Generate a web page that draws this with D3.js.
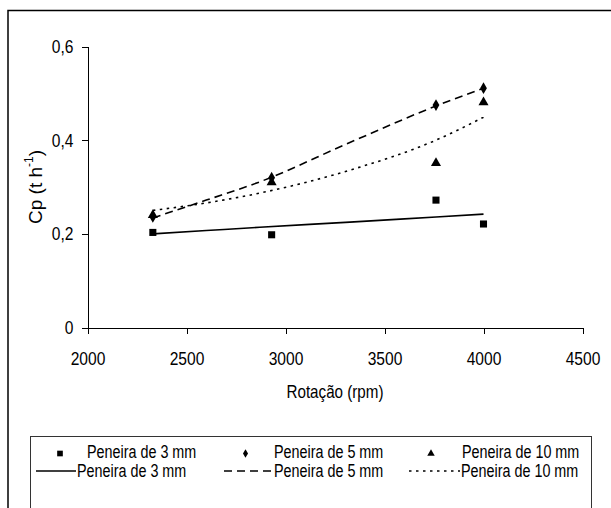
<!DOCTYPE html>
<html lang="pt">
<head>
<meta charset="UTF-8">
<style>
    body { margin: 0; background: #fff; }
    svg text { font-family: "Liberation Sans", Arial, sans-serif; fill: #000; }
    .axis path, .axis line { stroke: #000; stroke-width: 1; shape-rendering: crispEdges; }
    .axis text { font-size: 19px; }
</style>
<script src="https://d3js.org/d3.v7.min.js"></script>
</head>
<body>
<svg id="chart" width="611" height="508"></svg>
<script>
    // measured points
    var rpm = [2330, 2930, 3760, 4000];
    var p3 = [0.203, 0.198, 0.272, 0.221];
    var p5 = [0.236, 0.320, 0.475, 0.511];
    var p10 = [0.240, 0.310, 0.351, 0.481];

    // trend lines
    var trendRpm = [2330, 2600, 2870, 3325, 3760, 4000];
    var trend3 = [0.200, 0.207, 0.214, 0.225, 0.236, 0.242];
    var trend5 = [0.234, 0.272, 0.311, 0.395, 0.473, 0.511];
    var trend10 = [0.250, 0.266, 0.287, 0.336, 0.400, 0.449];

    var xTicks = [2000, 2500, 3000, 3500, 4000, 4500];
    var yTicks = [0, 0.2, 0.4, 0.6];
    var seriesNames = ["Peneira de 3 mm", "Peneira de 5 mm", "Peneira de 10 mm"];

    var NARROW = 0.82;
    // squeeze text horizontally, the original uses a condensed face
    function narrow(sel) {
        sel.each(function() {
            var w = this.getComputedTextLength();
            d3.select(this).attr("textLength", w * NARROW).attr("lengthAdjust", "spacingAndGlyphs");
        });
    }

    var svg = d3.select("#chart");

    // outer frame
    svg.append("rect")
        .attr("x", 8).attr("y", 10.5)
        .attr("width", 700).attr("height", 600)
        .attr("fill", "none").attr("stroke", "#000").attr("stroke-width", 1.5);

    var x = d3.scaleLinear().domain([2000, 4500]).range([87.5, 582.5]);
    var y = d3.scaleLinear().domain([0, 0.6]).range([327.5, 46.5]);
    var fmt = function(d) { return d3.format("")(d).replace(".", ","); };

    svg.append("g")
        .attr("class", "axis")
        .attr("transform", "translate(0," + y(0) + ")")
        .call(d3.axisBottom(x).tickValues(xTicks).tickFormat(d3.format("d")).tickSize(6).tickSizeOuter(0).tickPadding(18.5))
        .selectAll("text").call(narrow);

    svg.append("g")
        .attr("class", "axis")
        .attr("transform", "translate(" + x(2000) + ",0)")
        .call(d3.axisLeft(y).tickValues(yTicks).tickFormat(fmt).tickSize(6).tickSizeOuter(0).tickPadding(8))
        .selectAll("text").call(narrow);

    // axis titles
    svg.append("text")
        .attr("x", (x(2000) + x(4500)) / 2).attr("y", 393)
        .attr("text-anchor", "middle").attr("dominant-baseline", "middle")
        .style("font-size", "18.5px")
        .text("Rotação (rpm)")
        .call(narrow);

    var yl = svg.append("text")
        .attr("transform", "translate(37," + ((y(0) + y(0.6)) / 2) + ") rotate(-90)")
        .attr("text-anchor", "middle").attr("dominant-baseline", "middle")
        .style("font-size", "19px");
    yl.append("tspan").text("Cp (t h");
    yl.append("tspan").attr("dy", -7).style("font-size", "12px").text("-1");
    yl.append("tspan").attr("dy", 7).text(")");

    // trend lines
    var line = d3.line()
        .x(function(d) { return x(d[0]); })
        .y(function(d) { return y(d[1]); })
        .curve(d3.curveMonotoneX);

    var trends = [
        { vals: trend3, dash: null },
        { vals: trend5, dash: "8,5" },
        { vals: trend10, dash: "2.5,4.5" }
    ];

    trends.forEach(function(t) {
        svg.append("path")
            .datum(d3.zip(trendRpm, t.vals))
            .attr("d", line)
            .attr("fill", "none")
            .attr("stroke", "#000")
            .attr("stroke-width", 1.6)
            .attr("stroke-dasharray", t.dash);
    });

    // markers
    var symSquare = d3.symbol().type(d3.symbolSquare).size(50);
    var symDiamond = d3.symbol().type(d3.symbolDiamond).size(40);
    var symTriangle = d3.symbol().type(d3.symbolTriangle).size(44);

    function drawPoints(vals, sym) {
        svg.append("g").selectAll("path")
            .data(d3.zip(rpm, vals))
            .enter().append("path")
            .attr("transform", function(d) { return "translate(" + x(d[0]) + "," + y(d[1]) + ")"; })
            .attr("d", sym)
            .attr("fill", "#000");
    }
    drawPoints(p3, symSquare);
    drawPoints(p5, symDiamond);
    drawPoints(p10, symTriangle);

    // legend
    var lg = svg.append("g");
    lg.append("rect")
        .attr("x", 30.5).attr("y", 436.5)
        .attr("width", 561).attr("height", 100)
        .attr("fill", "#fff").attr("stroke", "#333").attr("stroke-width", 1);

    var markerX = [60, 245.5, 431];
    var textX1 = [87, 274, 462];
    var lineX = [[36, 76], [224, 273], [409, 460]];
    var legendSyms = [
        d3.symbol().type(d3.symbolSquare).size(32),
        d3.symbol().type(d3.symbolDiamond).size(22),
        d3.symbol().type(d3.symbolTriangle).size(24)
    ];

    seriesNames.forEach(function(name, i) {
        lg.append("path")
            .attr("transform", "translate(" + markerX[i] + ",453.5)")
            .attr("d", legendSyms[i])
            .attr("fill", "#000");
        lg.append("text")
            .attr("x", textX1[i]).attr("y", 453.5)
            .attr("dominant-baseline", "middle")
            .style("font-size", "17.5px")
            .text(name)
            .call(narrow);

        lg.append("line")
            .attr("x1", lineX[i][0]).attr("x2", lineX[i][1])
            .attr("y1", 471).attr("y2", 471)
            .attr("stroke", "#000").attr("stroke-width", 1.4)
            .attr("stroke-dasharray", trends[i].dash);
        lg.append("text")
            .attr("x", lineX[i][1] + 1).attr("y", 472.5)
            .attr("dominant-baseline", "middle")
            .style("font-size", "17.5px")
            .text(name)
            .call(narrow);
    });
</script>
</body>
</html>
